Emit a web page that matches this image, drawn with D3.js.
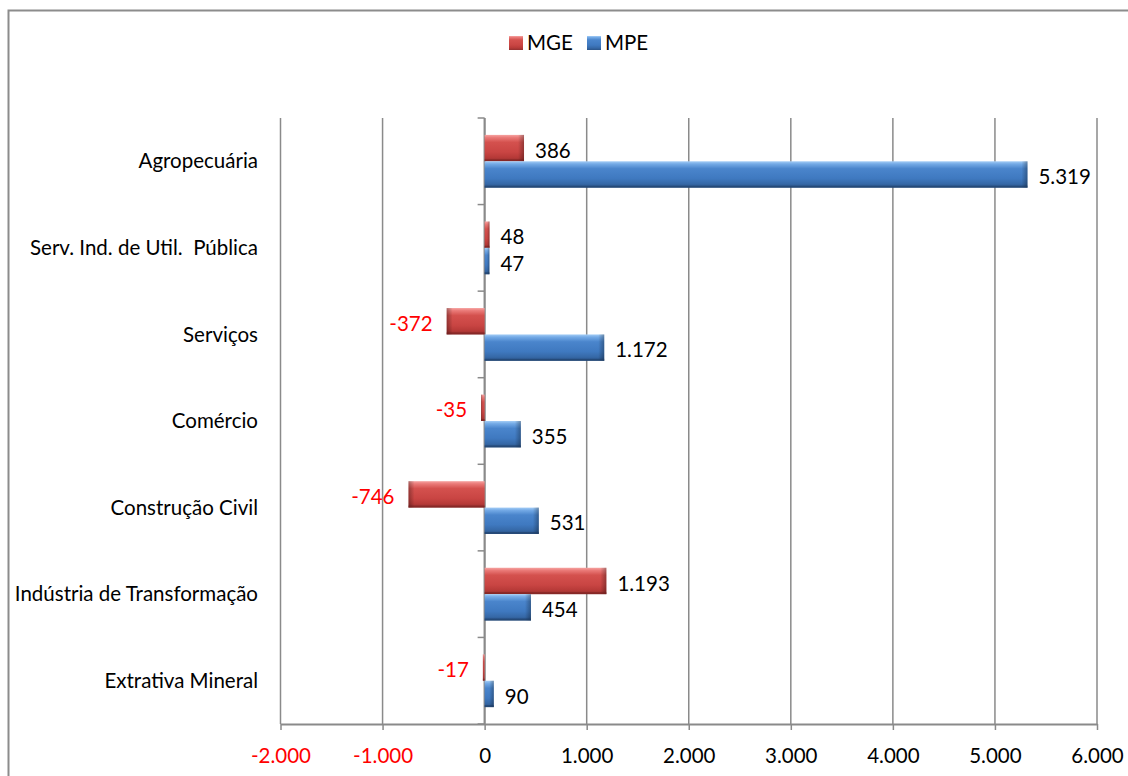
<!DOCTYPE html>
<html>
<head>
<meta charset="utf-8">
<script src="https://cdn.jsdelivr.net/npm/d3@7"></script>
<style>
  html, body { margin: 0; padding: 0; background: #fff; }
  svg { display: block; }
  text { font-family: Lato, "Open Sans", sans-serif; }
</style>
</head>
<body>
<svg id="chart" width="1128" height="776"></svg>
<script>
const categories = ["Agropecuária", "Serv. Ind. de Util.  Pública", "Serviços", "Comércio", "Construção Civil", "Indústria de Transformação", "Extrativa Mineral"];
const seriesNames = ["MGE", "MPE"];
const mgeValues = [386, 48, -372, -35, -746, 1193, -17];
const mpeValues = [5319, 47, 1172, 355, 531, 454, 90];
const xTicks = [-2000, -1000, 0, 1000, 2000, 3000, 4000, 5000, 6000];

const FONT = 20.5;
const svg = d3.select("#chart");
const locale = d3.formatLocale({decimal: ",", thousands: ".", grouping: [3], currency: ["R$", ""], minus: "-"});
const fmt = locale.format(",d");

const plot = {left: 280.5, right: 1097, top: 118, bottom: 724};
const x = d3.scaleLinear().domain([-2000, 6000]).range([plot.left, plot.right]);
const y = d3.scaleBand().domain(categories).range([plot.top, plot.bottom]);
const ys = d3.scaleBand().domain(seriesNames).range([0, y.bandwidth()]).paddingInner(0).paddingOuter(0.64);

const colors = {
  MGE: {stops: ["#f6a3a1", "#ea7a78", "#d4514e", "#c94543", "#b73a38", "#933030"], edge: "#7a2220"},
  MPE: {stops: ["#a4cdf6", "#74aae6", "#4a85cc", "#3f79c0", "#3669a8", "#2b5488"], edge: "#203f68"}
};

// chart frame
svg.append("rect").attr("x", 8.5).attr("y", 10.5).attr("width", 1140).attr("height", 800)
  .attr("fill", "#fff").attr("stroke", "#8c8c8c").attr("stroke-width", 2);

const defs = svg.append("defs");
seriesNames.forEach(s => {
  const g = defs.append("linearGradient").attr("id", "grad-" + s).attr("x1", 0).attr("y1", 0).attr("x2", 0).attr("y2", 1);
  const offs = [0, 0.1, 0.28, 0.65, 0.85, 1];
  colors[s].stops.forEach((c, i) => g.append("stop").attr("offset", offs[i]).attr("stop-color", c));
  const gr = defs.append("linearGradient").attr("id", "end-" + s).attr("x1", 0).attr("y1", 0).attr("x2", 1).attr("y2", 0);
  gr.append("stop").attr("offset", 0).attr("stop-color", "#000").attr("stop-opacity", 0);
  gr.append("stop").attr("offset", 1).attr("stop-color", "#000").attr("stop-opacity", 0.3);
  const gl = defs.append("linearGradient").attr("id", "start-" + s).attr("x1", 1).attr("y1", 0).attr("x2", 0).attr("y2", 0);
  gl.append("stop").attr("offset", 0).attr("stop-color", "#000").attr("stop-opacity", 0);
  gl.append("stop").attr("offset", 1).attr("stop-color", "#000").attr("stop-opacity", 0.3);
});

// gridlines
svg.append("g").selectAll("line").data(xTicks).join("line")
  .attr("x1", d => x(d)).attr("x2", d => x(d))
  .attr("y1", plot.top).attr("y2", plot.bottom)
  .attr("stroke", "#8a8a8a").attr("stroke-width", 1.5);

// value axis (bottom)
const xAxis = svg.append("g").attr("transform", `translate(0,${plot.bottom})`)
  .call(d3.axisBottom(x).tickValues(xTicks).tickSize(6).tickSizeOuter(0).tickFormat(fmt).tickPadding(18));
xAxis.select(".domain").attr("stroke", "#8a8a8a").attr("stroke-width", 2);
xAxis.selectAll(".tick line").attr("stroke", "#8a8a8a").attr("stroke-width", 1.5);
xAxis.selectAll(".tick text").attr("font-size", FONT).attr("font-family", "Lato")
  .attr("fill", d => d < 0 ? "#ff0000" : "#000");

// category axis at zero
const yBoundaries = categories.map(c => y(c)).concat([plot.bottom]);
svg.append("line").attr("x1", x(0)).attr("x2", x(0)).attr("y1", plot.top).attr("y2", plot.bottom)
  .attr("stroke", "#8a8a8a").attr("stroke-width", 2);
svg.append("g").selectAll("line").data(yBoundaries).join("line")
  .attr("x1", x(0) - 7).attr("x2", x(0)).attr("y1", d => d).attr("y2", d => d)
  .attr("stroke", "#8a8a8a").attr("stroke-width", 1.5);

// category labels
svg.append("g").selectAll("text").data(categories).join("text")
  .attr("x", 258).attr("y", d => y(d) + y.bandwidth() / 2)
  .attr("dy", "0.35em").attr("text-anchor", "end")
  .attr("font-size", FONT).attr("fill", "#000")
  .style("white-space", "pre")
  .text(d => d);

// bars
const data = [];
categories.forEach((c, i) => {
  data.push({cat: c, s: "MGE", v: mgeValues[i]});
  data.push({cat: c, s: "MPE", v: mpeValues[i]});
});

const bars = svg.append("g").selectAll("g").data(data).join("g");
bars.each(function(d) {
  const g = d3.select(this);
  const x0 = Math.min(x(0), x(d.v)), x1 = Math.max(x(0), x(d.v));
  const w = Math.max(x1 - x0, 1);
  const yy = y(d.cat) + ys(d.s), h = ys.bandwidth();
  g.append("rect").attr("x", x0).attr("y", yy).attr("width", w).attr("height", h)
    .attr("fill", `url(#grad-${d.s})`);
  const ew = Math.min(6, w / 2);
  if (d.v >= 0) {
    g.append("rect").attr("x", x1 - ew).attr("y", yy).attr("width", ew).attr("height", h).attr("fill", `url(#end-${d.s})`);
  } else {
    g.append("rect").attr("x", x0).attr("y", yy).attr("width", ew).attr("height", h).attr("fill", `url(#start-${d.s})`);
  }
  g.append("rect").attr("x", x0).attr("y", yy + h - 2).attr("width", w).attr("height", 2)
    .attr("fill", colors[d.s].edge).attr("opacity", 0.6);
});

// value labels
svg.append("g").selectAll("text").data(data).join("text")
  .attr("x", d => d.v >= 0 ? x(d.v) + 11 : x(d.v) - 14)
  .attr("y", d => y(d.cat) + ys(d.s) + ys.bandwidth() / 2 + 2.5)
  .attr("dy", "0.35em")
  .attr("text-anchor", d => d.v >= 0 ? "start" : "end")
  .attr("font-size", FONT)
  .attr("fill", d => d.v < 0 ? "#ff0000" : "#000")
  .text(d => fmt(d.v));

// legend
const legend = svg.append("g");
const legendX = [509, 587];
seriesNames.forEach((s, i) => {
  legend.append("rect").attr("x", legendX[i]).attr("y", 36).attr("width", 14).attr("height", 14)
    .attr("fill", `url(#grad-${s})`);
  legend.append("text").attr("x", legendX[i] + 18).attr("y", 43).attr("dy", "0.35em")
    .attr("font-size", FONT).attr("fill", "#000").text(s);
});
</script>
</body>
</html>
